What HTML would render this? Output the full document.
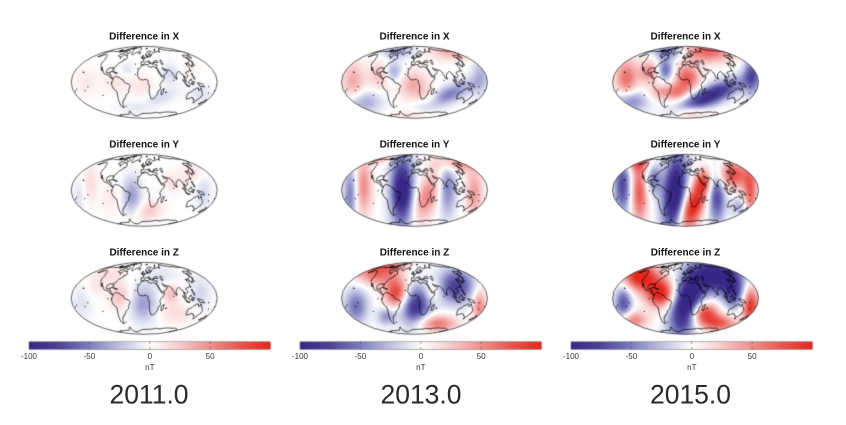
<!DOCTYPE html>
<html><head><meta charset="utf-8">
<style>
html,body{margin:0;padding:0;background:#fff;width:846px;height:425px;overflow:hidden}
#c{position:absolute;left:0;top:0}
svg{position:absolute;left:0;top:0}
</style></head><body>
<canvas id="c" width="846" height="425"></canvas>
<svg width="846" height="425" viewBox="0 0 846 425" font-family="'Liberation Sans', Arial, sans-serif">
<g font-size="10" font-weight="bold" fill="#111" text-anchor="middle">
<text x="144.2" y="39.5">Difference in X</text>
<text x="144.2" y="147.5">Difference in Y</text>
<text x="144.2" y="255.5">Difference in Z</text>
<text x="414.5" y="39.5">Difference in X</text>
<text x="414.5" y="147.5">Difference in Y</text>
<text x="414.5" y="255.5">Difference in Z</text>
<text x="685.5" y="39.5">Difference in X</text>
<text x="685.5" y="147.5">Difference in Y</text>
<text x="685.5" y="255.5">Difference in Z</text>
</g>
<g font-size="8" fill="#333" text-anchor="middle">
<text x="29" y="359">-100</text><text x="89.4" y="359">-50</text><text x="149.8" y="359">0</text><text x="210.1" y="359">50</text><text x="149.8" y="370">nT</text>
<text x="300" y="359">-100</text><text x="360.4" y="359">-50</text><text x="420.8" y="359">0</text><text x="481.1" y="359">50</text><text x="420.8" y="370">nT</text>
<text x="571" y="359">-100</text><text x="631.4" y="359">-50</text><text x="691.8" y="359">0</text><text x="752.1" y="359">50</text><text x="691.8" y="370">nT</text>
</g>
<g font-size="26.5" fill="#2a2a2a" text-anchor="middle">
<text x="149" y="403.5">2011.0</text>
<text x="421" y="403.5">2013.0</text>
<text x="690.5" y="403.5">2015.0</text>
</g>
</svg>
<script>
(function(){
var cv=document.getElementById('c'),ctx=cv.getContext('2d');
var stops=[[-100,55,40,135],[-75,78,66,152],[-50,122,124,190],[-25,190,192,226],[0,255,255,255],[25,248,202,202],[50,240,142,140],[75,233,85,78],[100,228,40,30]];
function cmap(v){
  if(v<-100)v=-100;if(v>100)v=100;
  for(var i=0;i<stops.length-1;i++){var a=stops[i],b=stops[i+1];
    if(v<=b[0]){var t=(v-a[0])/(b[0]-a[0]);return [a[1]+(b[1]-a[1])*t,a[2]+(b[2]-a[2])*t,a[3]+(b[3]-a[3])*t];}}
  var l=stops[stops.length-1];return [l[1],l[2],l[3]];
}
var M=[
 [ // 2011
  [[-0.7,-0.05,0.3,0.25,12,0],[0,0.15,0.25,0.25,12,0],[-1.6,0,0.25,0.3,10,0],[-0.48,-0.34,0.15,0.15,-15,0],[0.44,0.41,0.35,0.15,-15,-20],[0.72,-0.24,0.2,0.2,-15,0],[1.54,0.32,0.2,0.2,-12,0],[1.2,-0.3,0.2,0.2,8,0],[-0.3,0.7,0.3,0.15,-8,0]],
  [[-0.34,0.14,0.18,0.35,-38,0],[0.16,0.56,0.3,0.18,24,-30],[-1.48,-0.19,0.15,0.4,16,0],[1.36,-0.46,0.25,0.2,16,0],[0.72,-0.19,0.2,0.2,15,0],[-1.76,0.19,0.12,0.4,-12,0],[1.62,0,0.15,0.4,-16,0],[0.5,0.1,0.15,0.2,-10,0],[-0.9,0.2,0.2,0.3,10,0]],
  [[-0.02,0.15,0.25,0.35,-38,0],[-0.66,-0.04,0.2,0.25,28,0],[0.72,-0.13,0.15,0.2,30,0],[0.9,0.42,0.35,0.2,16,0],[-0.94,-0.68,0.3,0.2,15,0],[1.54,-0.13,0.2,0.35,-16,0],[-1.7,0.1,0.2,0.4,-12,0],[0.5,-0.6,0.3,0.2,-12,0],[-1.35,-0.3,0.2,0.2,12,0]]
 ],
 [ // 2013
  [[-1.68,-0.01,0.2,0.35,32,0],[-0.94,-0.2,0.2,0.25,24,0],[-0.58,-0.29,0.15,0.18,-32,0],[-0.02,0.08,0.25,0.25,32,0],[0.44,0.46,0.2,0.15,20,0],[0.88,0.37,0.5,0.15,-42,-24],[1.08,-0.86,0.4,0.15,32,0],[-0.48,-0.86,0.3,0.12,-26,0],[-1.4,0.55,0.3,0.2,-30,0],[-0.12,0.9,0.3,0.1,15,0],[1.8,-0.2,0.15,0.35,-22,0]],
  [[-0.34,0,0.2,0.7,-80,0],[-0.34,0.05,0.12,0.25,-25,0],[-1.4,-0.1,0.15,0.5,42,0],[-1.75,0.1,0.12,0.5,-42,0],[0.34,0.18,0.2,0.45,45,20],[1.18,-0.76,0.35,0.15,42,0],[0.9,-0.1,0.15,0.5,-42,0],[1.64,0.08,0.15,0.45,36,0],[-0.94,-0.9,0.3,0.1,30,0]],
  [[-0.5,-0.15,0.2,0.25,72,0],[0.04,0.22,0.25,0.35,-72,10],[1.14,-0.34,0.3,0.3,-65,0],[-1.04,-0.7,0.35,0.2,55,0],[-1.6,0.22,0.2,0.3,-45,0],[0.6,0.7,0.35,0.15,50,0],[1.78,0.22,0.12,0.3,45,0],[0.5,-0.2,0.15,0.2,25,0],[-0.77,0.5,0.15,0.15,-35,0],[-0.68,-0.9,0.3,0.1,30,0]]
 ],
 [ // 2015
  [[-1.62,-0.1,0.2,0.35,58,0],[-0.98,-0.29,0.2,0.2,48,0],[-0.56,-0.34,0.15,0.2,-58,0],[0.04,-0.1,0.22,0.25,68,0],[-0.6,0.27,0.25,0.15,42,0],[-0.2,0.3,0.15,0.15,30,0],[0.68,0.37,0.6,0.17,-90,-24],[0.58,-0.86,0.5,0.2,62,0],[-0.42,-0.86,0.3,0.15,-52,0],[-1.52,0.51,0.3,0.2,-48,0],[0.12,0.84,0.3,0.12,36,0],[1.82,-0.2,0.15,0.35,-58,0]],
  [[-0.3,0.05,0.2,0.7,-110,6],[-1.72,-0.14,0.15,0.5,-68,0],[-1.26,0.05,0.15,0.55,68,0],[-0.88,-0.33,0.15,0.3,-48,0],[0.22,0.43,0.18,0.45,100,20],[0.48,-0.24,0.15,0.2,52,0],[0.86,0.14,0.15,0.5,-68,0],[1.32,-0.43,0.3,0.25,72,0],[1.78,0.05,0.12,0.4,62,0],[-1.3,-0.75,0.25,0.15,50,0],[1.45,0.45,0.15,0.15,-30,0]],
  [[-1.24,-0.62,0.3,0.25,100,0],[-0.7,-0.15,0.25,0.25,100,0],[0.04,0.13,0.25,0.6,-115,15],[0.86,-0.62,0.4,0.3,-100,0],[1.32,-0.15,0.2,0.3,-62,0],[0.5,0.42,0.25,0.2,85,0],[1.78,0.23,0.15,0.35,85,0],[-1.7,0.13,0.15,0.3,-62,0],[-1.44,0.6,0.25,0.15,52,0],[0.96,0.7,0.3,0.15,62,0]]
 ]
];
// per-year scaling (sigma, amplitude)
var SS=[1.0,1.12,1.08],AS=[1.0,1.2,1.08];
for(var yc=0;yc<3;yc++)for(var rr=0;rr<3;rr++)M[yc][rr].forEach(function(b){b[2]*=SS[yc];b[3]*=SS[yc];b[4]*=AS[yc];});
function field(bl,u,v){
  var s=0;
  for(var i=0;i<bl.length;i++){var b=bl[i];var du=u-b[0],dv=v-b[1];var a=b[5]*Math.PI/180;
    var lx=du*Math.cos(a)+dv*Math.sin(a),ly=-du*Math.sin(a)+dv*Math.cos(a);
    s+=b[4]*Math.exp(-0.5*(lx*lx/(b[2]*b[2])+ly*ly/(b[3]*b[3])));}
  return s;
}
var CX=[144.2,414.5,685.5],CY=[82.3,190.3,298.3],RX=73,RY=36;
var coasts=[
[-168,66,-163,69,-157,71,-145,70,-135,69,-128,70,-115,68,-105,68,-95,72,-90,69,-85,70,-82,66,-87,64,-94,60,-93,57,-88,56,-82,55,-80,51,-78,56,-77,60,-72,61,-67,58,-64,60,-61,56,-56,52,-60,48,-65,49,-64,45,-66,44,-70,42,-74,40,-76,37,-76,35,-81,31,-80,26,-81,25,-83,28,-84,30,-89,30,-94,29,-97,27,-98,22,-96,19,-91,19,-90,21,-87,21,-88,16,-84,15,-83,11,-80,9,-77,8,-79,7,-82,8,-86,11,-88,13,-92,15,-96,16,-101,17,-105,20,-106,23,-109,25,-112,29,-113,31,-114,30,-110,23,-112,25,-115,28,-117,32,-121,35,-124,40,-124,46,-125,49,-128,51,-131,55,-136,58,-140,60,-146,61,-151,60,-154,58,-158,57,-162,55,-158,58,-162,60,-165,62,-164,64,-168,66],
[-77,8,-72,12,-68,11,-62,10,-57,6,-52,5,-50,1,-48,-1,-44,-2,-38,-4,-35,-6,-35,-9,-37,-12,-39,-16,-40,-21,-43,-23,-48,-26,-49,-29,-53,-34,-57,-35,-58,-38,-62,-39,-63,-42,-65,-45,-67,-47,-66,-48,-69,-51,-68,-53,-70,-55,-74,-53,-75,-49,-74,-45,-73,-41,-73,-37,-71,-31,-70,-24,-70,-18,-72,-17,-76,-14,-79,-8,-81,-5,-80,-2,-80,1,-78,3,-77,8],
[-73,78,-65,81,-50,82,-35,83,-22,82,-18,78,-20,73,-22,70,-27,68,-35,66,-40,64,-43,60,-48,61,-51,64,-53,67,-54,70,-56,73,-60,76,-68,77,-73,78],
[-62,66,-67,70,-72,71,-80,73,-90,73,-86,70,-80,69,-74,66,-68,63,-62,66],
[-118,70,-105,69,-100,70,-103,73,-115,73,-118,70],
[-90,76,-80,76,-70,79,-63,82,-80,83,-92,80,-90,76],
[-125,71,-120,72,-118,74,-124,74,-125,71],
[-100,74,-95,74,-92,76,-98,77,-100,74],
[-22,64,-18,63,-14,65,-16,66,-22,66,-22,64],
[-5,50,1,51,1,53,-1,55,-2,57,-3,58.5,-5,58.5,-6,56,-5,55,-3,54,-4,53,-5,52,-5,50],
[-10,52,-6,52,-6,55,-8,55,-10,54,-10,52],
[-9,43,-9,39,-9,37,-6,36,-2,37,0,39,3,42,4,43,7,43.5,9,44,10,43,12,42,15,40,16,38,17,40,18,40,16,41,13,44,13,45.5,15,45,19,42,20,40,22,37,24,38,23,40,26,41,28,41,27,40,26,38,28,37,30,36,33,36,36,36.5,36,35,35,33,34,31.5,32.5,30,33,28,35,28,37,25,39,21,41,18,43,13,45,13,49,14,52,16,55,17,58,20,60,22,59,23,57,24,56,26,54,24,52,24,51,26,50,27,48,29,48,30,50,30,51,28,54,27,56,27,58,26,62,25,66,25,67,24,69,22,70,21,72,20,73,16,74,14,75,12,76,9,77,8,78,9,80,10,80,13,80,15,82,17,85,20,87,21,89,22,91,22,92,21,94,18,95,16,97,17,98,13,99,10,99,8,100,6,101,3,103,1.5,104,1.5,103,4,103,6,101,7,100,9,100,13,101,12.5,103,11,105,9,106,10,109,12,109,15,107,17,106,20,108,21,110,21,111,21.5,114,22,117,23,119,25,120,27,122,30,121,32,120,34,119,35,120,37,122,37,121,38,119,39,118,39,121,40.5,122,40,124,40,126,38,127,35,129,35,129,37,128,39,130,42,132,43,135,44,138,46,140,48,141,52,140,54,137,54,138,56,142,59,148,59,152,59,155,59,156,57,156,51,158,52,160,54,162,56,163,58,165,60,170,60,173,61,178,62,180,65,180,69,176,70,170,70,162,70,160,70,152,71,145,72,140,72,135,71,130,71,128,72,125,73,120,73,113,74,110,76,105,78,100,79,97,77,92,76,88,75,80,73,75,73,73,71,72,68,70,67,68,69,66,69,60,69,55,68,50,68,44,68,43,66,40,65,38,66,35,66,33,67,33,69,30,70,25,71,20,70,15,69,13,67,12,65,9,63,5,62,5,59,7,58,10,59,11,59,12,56,13,55.5,10,55,10,57.5,8,57,8,55,9,54,7,53.5,5,53,4,52,2,51,1.5,50,0,49.5,-1,49.5,-2,48.7,-4.5,48.5,-3,47.5,-2,47,-1,46,-1.5,44,-2,43.3,-9,43],
[12,56,14,55.5,16,56,17,58,19,60,17,61,18,63,21,65,24,66,25,65,22,63,21,61,23,60,28,60,30,60,24,59,23,58,24,57,21,57,21,55,18,54.5,14,54,11,54],
[28,41,28,43,30,45,33,45,35,45,38,47,38,45,41,42,38,41,35,42,31,41,28,41],
[47,45,50,47,53,47,53,44,53,42,53,40,54,38,51,37,49,38,49,40,48,42,47,45],
[-6,36,-9,33,-10,30,-13,28,-16,24,-17,21,-16,19,-17,15,-17,13,-15,11,-13,9,-12,7,-8,5,-4,5,-1,5,2,6,5,6,7,4.5,9,4,10,2,9,0,10,-3,12,-5,13,-9,13,-12,12,-17,14,-23,15,-27,17,-30,18,-33,20,-35,23,-34,26,-34,28,-33,31,-29,33,-26,35,-24,35,-21,35,-18,37,-17,40,-15,41,-11,39,-7,39,-4,41,-2,43,1,45,2,48,5,50,9,51,12,48,11,45,10.5,43,11.5,42,14,40,16,38,18,37,21,36,23,35,25,34,27,33,29,32.5,30,32,31,30,31,27,31.5,25,32,22,33,20,32,19,30.5,17,31,15,32,11,33,10,35,11,37,9,37,5,37,0,36,-2,35.3,-6,36],
[44,-25,47,-25,49,-20,50,-15,49,-12,48,-14,44,-16,43,-21,44,-25],
[80,6,82,7,80,9.5,80,6],
[95,5.5,98,4,101,1,104,-2,106,-6,104,-5.5,101,-3,99,0,96,3,95,5.5],
[105,-6.5,110,-7,114,-7.5,114,-8.5,108,-8,105,-7,105,-6.5],
[109,1,110,-2,114,-3.5,116,-4,117,-1,119,1,117,5,116,7,113,3,110,2,109,1],
[119,-5,120,-1,121,1,125,1.5,122,-1,123,-4,121,-4,120,-5.5,119,-5],
[131,-1,134,-1,138,-2,141,-3,145,-4,147,-6,150,-10,147,-9,144,-8,141,-9,138,-8,137,-5,133,-4,132,-3,131,-1],
[120,18,122,18,122,14,124,12,126,7,125,6,122,8,123,10,121,13,120,16,120,18],
[120,22,122,25,121,25,120,22],
[130,31,131,34,135,34,137,34.5,140,35,141,37,142,39.5,141,41.5,140,41,140,39,139,37.5,137,37,136,36,133,35.5,131,34.5,130,33,130,31],
[140,42,142,42,145,43,144,44,142,45.5,141,44,140,42],
[142,46,143,48,144,50,143,54,142,53,142,49,142,46],
[114,-22,113,-26,115,-31,115,-34,118,-35,121,-34,124,-33.5,127,-32,131,-31.5,134,-32.5,136,-35,138,-34.5,138,-35.5,140,-37.5,143,-38.5,146,-39,148,-38,150,-37,151,-34,153,-31,153,-27,153,-25,151,-23,149,-21,147,-19,146,-17,145,-15,143,-14,142,-11,141,-13,141,-16,140,-17.5,137,-16,136,-13,137,-12,133,-11.5,131,-12,130,-13,129,-15,127,-14,125,-15,123,-17,122,-18,121,-19.5,118,-20.5,114,-22],
[145,-41,148,-41,148,-43,146,-43.5,145,-41],
[173,-35,174.5,-36.5,178,-37.5,177,-39,176,-41.5,175,-41,174,-39.5,174.5,-38,173,-35],
[172.5,-40.5,174,-41.5,172,-43.5,171,-45,169,-46.5,167,-46,168,-44.5,170.5,-42.5,172.5,-40.5],
[-180,-78,-170,-78,-160,-79,-150,-77,-140,-75,-130,-74,-120,-74,-110,-74,-100,-73,-90,-73,-80,-73,-75,-71,-68,-68,-63,-65,-58,-63,-60,-66,-62,-70,-62,-73,-60,-76,-50,-78,-40,-78,-30,-76,-20,-73,-10,-71,0,-70,10,-70,20,-70,30,-69.5,40,-69,50,-67,60,-67.5,70,-68,75,-70,80,-67,90,-66.5,100,-66,110,-66,120,-67,130,-66.5,140,-67,150,-68.5,160,-70,165,-71,170,-72,168,-75,165,-78,170,-78,180,-78],
[-85,22,-82,23,-77,22,-74,20,-78,20,-82,22,-85,22],
[-74,19.5,-72,20,-69,19.5,-68.5,18.5,-71,18,-74,18.5,-74,19.5],
[52,71,56,74,60,76.5,68,77,60,75,56,72,52,71],
[11,78,17,77,22,78,25,80,18,80,11,79,11,78]
];
function proj(lon,lat){
  var phi=lat*Math.PI/180,t;
  if(Math.abs(lat)>89.5){t=(lat>0?1:-1)*Math.PI/2;}
  else{t=phi;for(var k=0;k<20;k++){var f=2*t+Math.sin(2*t)-Math.PI*Math.sin(phi);var d=2+2*Math.cos(2*t);if(Math.abs(d)<1e-9)break;t-=f/d;}}
  return [(lon/180)*Math.cos(t),Math.sin(t)];
}
var P=coasts.map(function(a){var r=[];for(var i=0;i<a.length;i+=2)r.push(proj(a[i],a[i+1]));return r;});
var dots=[[-155,20],[-157,21],[-150,-17],[-140,-9],[-175,-18],[178,-17],[166,-22],[-60,-51],[-25,38],[-17,28],[-23,16],[55,-21],[57,-20],[73,4],[-80,-1],[-90,-1],[-170,-14],[160,-9],[-109,-27]];
var DP=dots.map(function(d){return proj(d[0],d[1]);});
for(var c=0;c<3;c++){for(var r=0;r<3;r++){
  var cx=CX[c],cy=CY[r],bl=M[c][r];
  var x0=Math.floor(cx-RX)-1,y0=Math.floor(cy-RY)-1,w=Math.ceil(2*RX)+3,h=Math.ceil(2*RY)+3;
  var off=document.createElement('canvas');off.width=w;off.height=h;var oc=off.getContext('2d');
  var im=oc.createImageData(w,h),dd=im.data;
  for(var j=0;j<h;j++){for(var i=0;i<w;i++){
    var nx=(x0+i+0.5-cx)/RX,ny=(y0+j+0.5-cy)/RY;
    var val=field(bl,2*nx,ny);var col=cmap(val);var p=(j*w+i)*4;
    dd[p]=col[0];dd[p+1]=col[1];dd[p+2]=col[2];dd[p+3]=255;}}
  oc.putImageData(im,0,0);
  ctx.save();ctx.beginPath();ctx.ellipse(cx,cy,RX,RY,0,0,2*Math.PI);ctx.clip();
  ctx.drawImage(off,x0,y0);
  ctx.lineWidth=0.7;ctx.strokeStyle='#000';ctx.lineJoin='round';
  for(var q=0;q<P.length;q++){var pts=P[q];ctx.beginPath();
    for(var s=0;s<pts.length;s++){var X=cx+pts[s][0]*RX,Y=cy-pts[s][1]*RY;if(s==0)ctx.moveTo(X,Y);else ctx.lineTo(X,Y);}
    ctx.stroke();}
  ctx.fillStyle='#000';
  for(var q2=0;q2<DP.length;q2++){ctx.fillRect(cx+DP[q2][0]*RX-0.5,cy-DP[q2][1]*RY-0.5,1,1);}
  ctx.restore();
  ctx.beginPath();ctx.ellipse(cx,cy,RX,RY,0,0,2*Math.PI);ctx.lineWidth=0.7;ctx.strokeStyle='#222';ctx.stroke();
}}
var BL=[29,300,571],BW=241.5,BY=341.8,BH=7.5;
for(var b=0;b<3;b++){
  var L=BL[b];
  for(var x=0;x<Math.ceil(BW);x++){var v=-100+200*(x+0.5)/BW;var col=cmap(v);
    ctx.fillStyle='rgb('+Math.round(col[0])+','+Math.round(col[1])+','+Math.round(col[2])+')';
    ctx.fillRect(L+x,BY,Math.min(1,BW-x),BH);}
  ctx.lineWidth=0.5;ctx.strokeStyle='#666';ctx.strokeRect(L,BY,BW,BH);
  ctx.strokeStyle='#444';ctx.lineWidth=0.6;
  for(var k=1;k<4;k++){var tx=L+BW*k/4;ctx.beginPath();ctx.moveTo(tx,BY);ctx.lineTo(tx,BY+2.2);ctx.moveTo(tx,BY+BH-2.2);ctx.lineTo(tx,BY+BH);ctx.stroke();}
}
})();
</script>
</body></html>
